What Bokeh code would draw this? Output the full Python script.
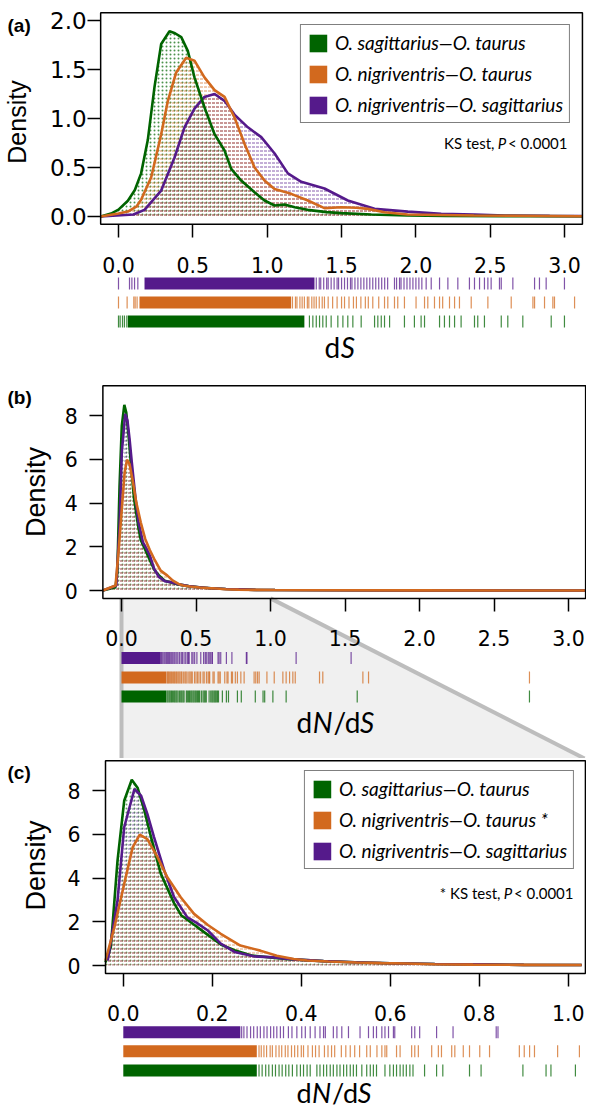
import math
from bokeh.plotting import figure
from bokeh.models import Range1d, FixedTicker, Label, Legend, LegendItem
from bokeh.layouts import column
from bokeh.embed import file_html
from bokeh.resources import INLINE
from bokeh.core.properties import value

# ---------------- data ----------------
GREEN, ORANGE, PURPLE = "#006400", "#D2691E", "#551A8B"
PAIR_LABELS = ["O. sagittarius\u2014O. taurus",
               "O. nigriventris\u2014O. taurus",
               "O. nigriventris\u2014O. sagittarius"]
PAIR_LABELS_C = ["O. sagittarius\u2014O. taurus",
                 "O. nigriventris\u2014O. taurus *",
                 "O. nigriventris\u2014O. sagittarius"]

DS_X_TICKS = [0.0, 0.5, 1.0, 1.5, 2.0, 2.5, 3.0]
DS_X_LABELS = ["0.0", "0.5", "1.0", "1.5", "2.0", "2.5", "3.0"]
DS_Y_TICKS = [0.0, 0.5, 1.0, 1.5, 2.0]
DS_Y_LABELS = ["0.0", "0.5", "1.0", "1.5", "2.0"]
DNDS_X_TICKS = [0.0, 0.5, 1.0, 1.5, 2.0, 2.5, 3.0]
DNDS_X_LABELS = ["0.0", "0.5", "1.0", "1.5", "2.0", "2.5", "3.0"]
ZOOM_X_TICKS = [0.0, 0.2, 0.4, 0.6, 0.8, 1.0]
ZOOM_X_LABELS = ["0.0", "0.2", "0.4", "0.6", "0.8", "1.0"]
DEN_Y_TICKS = [0, 2, 4, 6, 8]
DEN_Y_LABELS = ["0", "2", "4", "6", "8"]

# dS densities
DS_GREEN_X = [-0.12, -0.05, 0.0, 0.063, 0.11, 0.152, 0.197, 0.242, 0.287, 0.343,
              0.38, 0.422, 0.466, 0.511, 0.578, 0.646, 0.713, 0.758, 0.825, 0.915,
              0.982, 1.05, 1.117, 1.185, 1.271, 1.4, 1.497, 1.7, 1.944, 2.2, 2.6, 3.12]
DS_GREEN_Y = [0.0, 0.03, 0.07, 0.16, 0.27, 0.44, 0.78, 1.32, 1.76, 1.89,
              1.87, 1.83, 1.69, 1.42, 1.115, 0.84, 0.673, 0.486, 0.367, 0.247,
              0.163, 0.112, 0.122, 0.095, 0.068, 0.045, 0.034, 0.02, 0.01, 0.006, 0.004, 0.002]
DS_ORANGE_X = [-0.12, 0.0, 0.063, 0.12, 0.152, 0.22, 0.287, 0.332, 0.388, 0.455,
               0.511, 0.578, 0.646, 0.713, 0.78, 0.848, 0.915, 0.982, 1.049, 1.161,
               1.273, 1.385, 1.498, 1.6, 1.676, 1.789, 1.944, 2.39, 3.12]
DS_ORANGE_Y = [0.0, 0.03, 0.05, 0.1, 0.17, 0.40, 0.84, 1.18, 1.47, 1.62,
               1.59, 1.42, 1.29, 1.22, 1.01, 0.74, 0.50, 0.367, 0.28, 0.231,
               0.163, 0.085, 0.095, 0.09, 0.078, 0.044, 0.02, 0.01, 0.003]
DS_PURPLE_X = [-0.12, 0.1, 0.175, 0.287, 0.377, 0.444, 0.511, 0.578, 0.646, 0.713,
               0.78, 0.87, 0.96, 1.05, 1.139, 1.229, 1.385, 1.542, 1.722, 1.946,
               2.17, 2.394, 2.6, 2.9, 3.12]
DS_PURPLE_Y = [0.0, 0.02, 0.068, 0.265, 0.602, 0.91, 1.10, 1.22, 1.25, 1.18,
               1.04, 0.91, 0.81, 0.643, 0.44, 0.354, 0.286, 0.163, 0.078, 0.05,
               0.027, 0.02, 0.01, 0.006, 0.004]

# dN/dS densities
DNDS_GREEN_X = [-0.125, -0.04, -0.028, -0.013, 0.002, 0.019, 0.032, 0.047, 0.062, 0.084,
                0.114, 0.13, 0.16, 0.18, 0.2, 0.22, 0.25, 0.29, 0.34, 0.38,
                0.45, 0.52, 0.6, 0.7, 0.8, 0.9, 1.03, 1.5, 2.0, 3.11]
DNDS_GREEN_Y = [0.0, 0.15, 0.84, 4.79, 7.53, 8.49, 8.13, 7.11, 5.89, 4.21,
                2.85, 2.3, 1.85, 1.55, 1.25, 0.95, 0.7, 0.45, 0.35, 0.28,
                0.2, 0.15, 0.1, 0.07, 0.05, 0.03, 0.02, 0.01, 0.005, 0.0]
DNDS_ORANGE_X = [-0.125, -0.04, -0.02, 0.002, 0.021, 0.037, 0.054, 0.077, 0.099, 0.129,
                 0.159, 0.19, 0.219, 0.263, 0.308, 0.345, 0.383, 0.413, 0.46, 0.524,
                 0.58, 0.636, 0.7, 0.786, 0.9, 1.03, 1.5, 2.0, 3.11]
DNDS_ORANGE_Y = [0.0, 0.23, 1.75, 3.73, 5.4, 5.98, 5.78, 4.95, 4.03, 3.12,
                 2.36, 1.85, 1.45, 0.91, 0.68, 0.45, 0.3, 0.23, 0.18, 0.14,
                 0.11, 0.09, 0.06, 0.04, 0.03, 0.02, 0.01, 0.005, 0.0]
DNDS_PURPLE_X = [-0.125, -0.035, -0.013, 0.002, 0.025, 0.04, 0.054, 0.069, 0.092, 0.114,
                 0.144, 0.165, 0.19, 0.219, 0.25, 0.293, 0.338, 0.383, 0.45, 0.52,
                 0.6, 0.7, 0.8, 0.9, 1.03, 1.5, 2.0, 3.11]
DNDS_PURPLE_Y = [0.0, 0.23, 2.97, 6.32, 8.07, 7.76, 6.93, 5.87, 4.35, 3.13,
                 2.2, 1.95, 1.6, 1.0, 0.62, 0.42, 0.37, 0.28, 0.2, 0.15,
                 0.1, 0.07, 0.05, 0.03, 0.02, 0.01, 0.005, 0.0]

# rugs: dense stretches (drawn solid) and single observations
DS_GREEN_BANDS = [(0.063, 1.25)]
DS_GREEN_RUG = [0.0, 0.011, 0.027, 0.04, 0.056, 1.284, 1.307, 1.33, 1.352, 1.374, 1.397,
                1.43, 1.475, 1.509, 1.542, 1.576, 1.632, 1.722, 1.744, 1.767, 1.789, 1.823,
                1.923, 1.99, 2.035, 2.058, 2.159, 2.192, 2.226, 2.26, 2.304, 2.394, 2.416,
                2.461, 2.574, 2.618, 2.719, 2.91, 2.999]
DS_ORANGE_BANDS = [(0.141, 1.161)]
DS_ORANGE_RUG = [0.0, 0.058, 0.103, 0.112, 0.125, 1.17, 1.19, 1.2, 1.22, 1.235, 1.25, 1.27,
                 1.28, 1.3, 1.315, 1.33, 1.35, 1.37, 1.385, 1.41, 1.44, 1.47, 1.5, 1.52, 1.55,
                 1.58, 1.6, 1.63, 1.66, 1.68, 1.71, 1.75, 1.789, 1.811, 1.856, 1.878, 1.923,
                 2.001, 2.058, 2.08, 2.125, 2.159, 2.18, 2.226, 2.26, 2.293, 2.372, 2.484,
                 2.641, 2.787, 2.798, 2.865, 2.921, 2.932, 3.067]
DS_PURPLE_BANDS = [(0.175, 1.318)]
DS_PURPLE_RUG = [0.0, 0.074, 0.09, 0.108, 0.13, 1.33, 1.35, 1.36, 1.38, 1.40, 1.41, 1.43,
                 1.45, 1.47, 1.48, 1.50, 1.52, 1.54, 1.56, 1.57, 1.59, 1.61, 1.63, 1.65,
                 1.67, 1.69, 1.71, 1.73, 1.75, 1.77, 1.79, 1.81, 1.856, 1.87, 1.89, 1.9,
                 1.92, 1.94, 1.96, 1.98, 2.0, 2.02, 2.04, 2.069, 2.103, 2.159, 2.215, 2.282,
                 2.36, 2.394, 2.428, 2.461, 2.484, 2.506, 2.562, 2.574, 2.652, 2.798, 2.831,
                 2.876, 2.999]

DNDS_GREEN_BANDS = [(0.0, 0.30)]
DNDS_GREEN_RUG = [0.305, 0.312, 0.32, 0.327, 0.335, 0.342, 0.35, 0.357, 0.365, 0.372, 0.38,
                  0.39, 0.398, 0.405, 0.413, 0.42, 0.435, 0.442, 0.45, 0.457, 0.465, 0.472,
                  0.48, 0.487, 0.495, 0.502, 0.51, 0.517, 0.524, 0.536, 0.547, 0.555, 0.562,
                  0.569, 0.588, 0.599, 0.607, 0.614, 0.622, 0.629, 0.636, 0.644, 0.651, 0.677,
                  0.704, 0.718, 0.778, 0.804, 0.898, 0.95, 0.961, 1.016, 1.105, 1.582, 2.738]
DNDS_ORANGE_BANDS = [(0.0, 0.30)]
DNDS_ORANGE_RUG = [0.305, 0.31, 0.316, 0.322, 0.33, 0.335, 0.343, 0.35, 0.356, 0.364, 0.37,
                   0.378, 0.385, 0.392, 0.4, 0.405, 0.415, 0.425, 0.432, 0.44, 0.452, 0.46,
                   0.468, 0.475, 0.49, 0.5, 0.51, 0.52, 0.531, 0.547, 0.555, 0.57, 0.581,
                   0.588, 0.592, 0.614, 0.622, 0.648, 0.655, 0.663, 0.693, 0.708, 0.715,
                   0.738, 0.745, 0.764, 0.778, 0.801, 0.823, 0.89, 0.901, 0.913, 0.924,
                   0.976, 1.025, 1.083, 1.105, 1.128, 1.15, 1.166, 1.329, 1.351, 1.62, 1.658,
                   2.738]
DNDS_PURPLE_BANDS = [(0.0, 0.263)]
DNDS_PURPLE_RUG = [0.266, 0.271, 0.278, 0.286, 0.293, 0.301, 0.308, 0.316, 0.323, 0.331,
                   0.338, 0.345, 0.353, 0.36, 0.371, 0.379, 0.39, 0.401, 0.409, 0.42, 0.431,
                   0.442, 0.45, 0.454, 0.472, 0.48, 0.491, 0.506, 0.532, 0.551, 0.562, 0.569,
                   0.581, 0.588, 0.596, 0.607, 0.61, 0.648, 0.655, 0.666, 0.704, 0.741,
                   0.838, 0.842, 1.172, 1.541]

ZOOM_WINDOW = (0.0, 1.0)

# plotting-region limits (x0, x1, y0, y1) of each panel's box
A_BOX = (-0.12, 3.12, -0.08, 2.08)
B_BOX = (-0.125, 3.115, -0.36, 9.36)
C_BOX = (-0.04, 1.0385, -0.36, 9.36)

# ---------------- layout helpers ----------------
TICK_FONT = "DejaVu Sans"
LAB_FONT = "Liberation Sans"
TXT_FONT = "Lato"
CANVAS_LEFT = 6      # page x of the canvas' left edge
CANVAS_W = 586


class Geo:
    """Maps page pixels of a panel to its data coordinates."""
    def __init__(self, top, bottom, x0px, ppx, y0px, ppy, border_top=0):
        self.top, self.bottom, self.bt = top, bottom, border_top
        self.x0px, self.ppx, self.y0px, self.ppy = x0px, ppx, y0px, ppy

    def X(self, px):
        return (px - self.x0px) / self.ppx

    def Y(self, py):
        return (self.y0px - py) / self.ppy


def make_fig(g):
    ft = g.top + g.bt
    p = figure(frame_width=CANVAS_W, frame_height=g.bottom - ft,
               min_border_left=0, min_border_right=0,
               min_border_top=g.bt, min_border_bottom=0,
               x_range=Range1d(g.X(CANVAS_LEFT), g.X(CANVAS_LEFT + CANVAS_W)),
               y_range=Range1d(g.Y(g.bottom), g.Y(ft)),
               toolbar_location=None, output_backend="svg")
    p.outline_line_color = None
    p.grid.visible = False
    p.background_fill_color = "white"
    p.border_fill_color = "white"
    return p


def style_axes(p, box, xticks, xlabels, yticks, ylabels, ylab_size, ylab_standoff, xlab_standoff):
    ax = p.xaxis[0]
    ax.fixed_location = box[2]
    ax.ticker = FixedTicker(ticks=xticks)
    ax.major_label_overrides = dict(zip(xticks, xlabels))
    ax.axis_line_color = None
    ax.major_tick_out = 13
    ax.major_tick_in = 0
    ax.minor_tick_out = 0
    ax.minor_tick_in = 0
    ax.major_tick_line_width = 1.5
    ax.major_tick_line_color = "black"
    ax.major_label_text_font = TICK_FONT
    ax.major_label_text_font_size = "20.5px"
    ax.major_label_text_color = "black"
    ax.major_label_standoff = xlab_standoff
    ay = p.yaxis[0]
    ay.fixed_location = box[0]
    ay.ticker = FixedTicker(ticks=yticks)
    ay.major_label_overrides = dict(zip(yticks, ylabels))
    ay.axis_line_color = None
    ay.major_tick_out = 13
    ay.major_tick_in = 0
    ay.minor_tick_out = 0
    ay.minor_tick_in = 0
    ay.major_tick_line_width = 1.5
    ay.major_tick_line_color = "black"
    ay.major_label_text_font = TICK_FONT
    ay.major_label_text_font_size = ylab_size
    ay.major_label_text_color = "black"
    ay.major_label_standoff = ylab_standoff


def add_box(p, box):
    p.quad(left=box[0], right=box[1], bottom=box[2], top=box[3],
           fill_color=None, line_color="black", line_width=1.5)


def in_box(series, box):
    out = []
    for xs, ys, c, h in series:
        keep = [(x, y) for x, y in zip(xs, ys) if box[0] - 1e-9 <= x <= box[1] + 0.006]
        out.append(([k[0] for k in keep], [k[1] for k in keep], c, h))
    return out


def add_densities(p, series, alpha):
    for xs, ys, c, h in series:
        p.varea(x=xs, y1=0, y2=ys, fill_color=None, hatch_pattern=h,
                hatch_color=c, hatch_scale=4, hatch_weight=1, hatch_alpha=alpha)


def add_lines(p, series):
    for xs, ys, c, h in series:
        p.line(xs, ys, line_color=c, line_width=2.6)


def add_rugs(p, g, rows):
    # rows: list of (bands, ticks, color, center_px); returns band renderers
    out = {}
    for bands, ticks, c, cy in rows:
        yb, yt = g.Y(cy + 6), g.Y(cy - 6)
        r = p.quad(left=[b[0] for b in bands], right=[b[1] for b in bands],
                   bottom=yb, top=yt, fill_color=c, line_color=None)
        p.segment(x0=ticks, x1=ticks, y0=yb, y1=yt, line_color=c,
                  line_width=1.2, line_alpha=0.75)
        out[c] = r
    return out


def add_legend(p, labels, swatches, margin):
    rs = [swatches[c] for c in (GREEN, ORANGE, PURPLE)]
    leg = Legend(items=[LegendItem(label=value(l), renderers=[r]) for l, r in zip(labels, rs)],
                 location="top_right", margin=margin, padding=6, spacing=8,
                 glyph_width=22, glyph_height=22, label_height=22, label_standoff=6,
                 label_text_font=TXT_FONT, label_text_font_style="italic",
                 label_text_font_size="19px", label_text_color="black",
                 border_line_color="black", border_line_width=1.5,
                 background_fill_color="white", background_fill_alpha=1.0)
    p.add_layout(leg)


def text(p, x, y, s, size, font=TXT_FONT, style="normal", align="left", baseline="middle", angle=0.0):
    p.add_layout(Label(x=x, y=y, text=s, text_font=font, text_font_size=size,
                       text_font_style=style, text_align=align, text_baseline=baseline,
                       angle=angle, text_color="black"))


def ks_note(p, g, right_px, mid_px, prefix):
    y = g.Y(mid_px)
    text(p, g.X(right_px), y, "< 0.0001", "15px", align="right")
    text(p, g.X(right_px - 61.3), y, "P", "15px", style="italic", align="right")
    text(p, g.X(right_px - 61.3 - 8.7 - 3.0), y, prefix + "KS test,", "15px", align="right")


def xlabel(p, g, start_px, mid_px, pieces, size="28px"):
    x = start_px
    for s, st, w in pieces:
        text(p, g.X(x), g.Y(mid_px), s, size, style=st)
        x += w


DNDS_PIECES = [("d", "normal", 16.2), ("N", "italic", 20.7), ("/d", "normal", 26.6), ("S", "italic", 14.6)]
DNDS_PIECES_S = [("d", "normal", 15.6), ("N", "italic", 20.0), ("/d", "normal", 25.6), ("S", "italic", 14.0)]

# ---------------- panel (a): dS ----------------
gA = Geo(0, 370, 124.0, 148.7, 216, 98, border_top=8)
pa = make_fig(gA)
ds_series = in_box([(DS_GREEN_X, DS_GREEN_Y, GREEN, "dot"),
                    (DS_PURPLE_X, DS_PURPLE_Y, PURPLE, "horizontal_dash"),
                    (DS_ORANGE_X, DS_ORANGE_Y, ORANGE, "horizontal_dash")], A_BOX)
add_densities(pa, ds_series, 0.7)
add_lines(pa, [ds_series[1], ds_series[0], ds_series[2]])
add_box(pa, A_BOX)
sw_a = add_rugs(pa, gA, [(DS_PURPLE_BANDS, DS_PURPLE_RUG, PURPLE, 283),
                         (DS_ORANGE_BANDS, DS_ORANGE_RUG, ORANGE, 302),
                         (DS_GREEN_BANDS, DS_GREEN_RUG, GREEN, 321)])
style_axes(pa, A_BOX, DS_X_TICKS, DS_X_LABELS, DS_Y_TICKS, DS_Y_LABELS, "23px", 1, 20)
add_legend(pa, PAIR_LABELS, sw_a, 16)
ks_note(pa, gA, 573, 142, "")
text(pa, gA.X(22), gA.Y(121.5), "Density", "25px", font=LAB_FONT, align="center", angle=math.pi / 2)
text(pa, gA.X(13), gA.Y(25), "(a)", "19px", font=LAB_FONT, style="bold")
xlabel(pa, gA, 330, 346, [("d", "normal", 16.2), ("S", "italic", 14.6)])

# ---------------- panel (b): dN/dS full range ----------------
gB = Geo(370, 758, 127.0, 149.0, 590, 21.875)
pb = make_fig(gB)
# zoom connector towards panel (c)
pb.patch([ZOOM_WINDOW[0], ZOOM_WINDOW[1], gB.X(590), ZOOM_WINDOW[0]],
         [B_BOX[2], B_BOX[2], gB.Y(758), gB.Y(758)],
         fill_color="#f0f0f0", line_color=None)
pb.line([ZOOM_WINDOW[0], ZOOM_WINDOW[0]], [B_BOX[2], gB.Y(758)], line_color="#bdbdbd", line_width=4)
pb.line([ZOOM_WINDOW[1], gB.X(590)], [B_BOX[2], gB.Y(758)], line_color="#bdbdbd", line_width=4)
dn_all = [(DNDS_GREEN_X, DNDS_GREEN_Y, GREEN, "dot"),
          (DNDS_PURPLE_X, DNDS_PURPLE_Y, PURPLE, "horizontal_dash"),
          (DNDS_ORANGE_X, DNDS_ORANGE_Y, ORANGE, "horizontal_dash")]
dn_b = in_box(dn_all, B_BOX)
add_densities(pb, dn_b, 0.6)
add_lines(pb, dn_b)
add_box(pb, B_BOX)
add_rugs(pb, gB, [(DNDS_PURPLE_BANDS, DNDS_PURPLE_RUG, PURPLE, 657.5),
                  (DNDS_ORANGE_BANDS, DNDS_ORANGE_RUG, ORANGE, 677),
                  (DNDS_GREEN_BANDS, DNDS_GREEN_RUG, GREEN, 696)])
style_axes(pb, B_BOX, DNDS_X_TICKS, DNDS_X_LABELS, DEN_Y_TICKS, DEN_Y_LABELS, "20.5px", 12, 19)
text(pb, gB.X(41), gB.Y(491.5), "Density", "27px", font=LAB_FONT, align="center", angle=math.pi / 2)
text(pb, gB.X(13), gB.Y(397), "(b)", "19px", font=LAB_FONT, style="bold")
xlabel(pb, gB, 302, 721, DNDS_PIECES)

# ---------------- panel (c): dN/dS zoom 0-1 ----------------
gC = Geo(758, 1108, 128.8, 445.0, 965, 21.875)
pc = make_fig(gC)
dn_c = in_box(dn_all, C_BOX)
add_densities(pc, dn_c, 0.6)
add_lines(pc, dn_c)
add_box(pc, C_BOX)
sw_c = add_rugs(pc, gC, [(DNDS_PURPLE_BANDS, DNDS_PURPLE_RUG, PURPLE, 1031.7),
                         (DNDS_ORANGE_BANDS, DNDS_ORANGE_RUG, ORANGE, 1050.8),
                         (DNDS_GREEN_BANDS, DNDS_GREEN_RUG, GREEN, 1070)])
style_axes(pc, C_BOX, ZOOM_X_TICKS, ZOOM_X_LABELS, DEN_Y_TICKS, DEN_Y_LABELS, "20.5px", 12, 19)
add_legend(pc, PAIR_LABELS_C, sw_c, 12)
ks_note(pc, gC, 579, 892, "* ")
text(pc, gC.X(41), gC.Y(865), "Density", "27px", font=LAB_FONT, align="center", angle=math.pi / 2)
text(pc, gC.X(13), gC.Y(772), "(c)", "19px", font=LAB_FONT, style="bold")
xlabel(pc, gC, 302, 1092, DNDS_PIECES_S, size="27px")

layout = column(pa, pb, pc, spacing=0)
open("out.html", "w").write(file_html(layout, INLINE))
